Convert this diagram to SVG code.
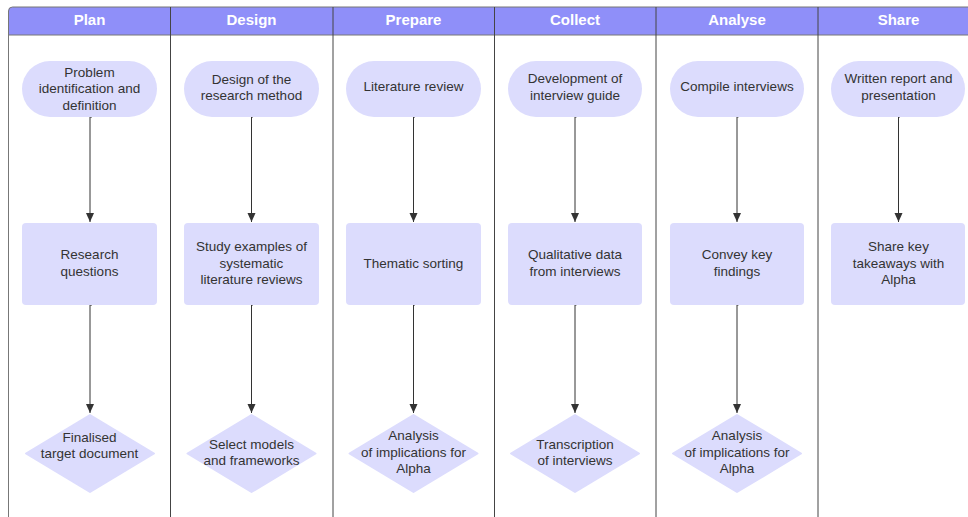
<svg xmlns="http://www.w3.org/2000/svg" width="968" height="517" viewBox="0 0 968 517">
<defs>
<marker id="arr" markerWidth="12" markerHeight="12" refX="9" refY="6" orient="auto" markerUnits="userSpaceOnUse">
<path d="M0,2 L9,6 L0,10 Z" fill="#333"/>
</marker>
<style>
.hdr{fill:#8f8ff9}
.lane{fill:none;stroke:#444;stroke-width:1}
.frame{fill:none;stroke:#777;stroke-width:1}
.ht{font-family:"Liberation Sans",Arial,sans-serif;font-size:15px;font-weight:bold;fill:#fff;text-anchor:middle}
.node{fill:#dcdcfd}
.dec{fill:#dcdcfd;stroke:#dcdcfd;stroke-width:2;stroke-linejoin:round}
.t{font-family:"Liberation Sans",Arial,sans-serif;font-size:13.5px;fill:#333;text-anchor:middle}
.c{fill:none;stroke:#333;stroke-width:1;marker-end:url(#arr)}
</style>
</defs>
<rect width="968" height="517" fill="#fff"/>
<g id="lanes">
<path class="hdr" d="M8.5,35 V11 Q8.5,7 12.5,7 H980 V35 Z"/>
<path class="frame" d="M8.5,530 V11 Q8.5,7 12.5,7 H980"/>
<line class="frame" x1="8.5" y1="35" x2="980" y2="35"/>
<line class="lane" x1="170.5" y1="7" x2="170.5" y2="530"/>
<line class="lane" x1="333" y1="7" x2="333" y2="530"/>
<line class="lane" x1="494.5" y1="7" x2="494.5" y2="530"/>
<line class="lane" x1="656" y1="7" x2="656" y2="530"/>
<line class="lane" x1="818" y1="7" x2="818" y2="530"/>
<text class="ht" x="89.5" y="24.5">Plan</text>
<text class="ht" x="251.5" y="24.5">Design</text>
<text class="ht" x="413.5" y="24.5">Prepare</text>
<text class="ht" x="575" y="24.5">Collect</text>
<text class="ht" x="737" y="24.5">Analyse</text>
<text class="ht" x="898.5" y="24.5">Share</text>
</g>
<g id="connectors">
<path class="c" d="M92,117 H90 V222"/>
<path class="c" d="M92,305 H90 V413"/>
<path class="c" d="M253,117 H251.5 V222"/>
<path class="c" d="M253,305 H251.5 V413"/>
<path class="c" d="M415,117 H413.5 V222"/>
<path class="c" d="M415,305 H413.5 V413"/>
<path class="c" d="M576.5,117 H575 V222"/>
<path class="c" d="M576.5,305 H575 V413"/>
<path class="c" d="M738.5,117 H737 V222"/>
<path class="c" d="M738.5,305 H737 V413"/>
<path class="c" d="M900,117 H898.5 V222"/>
</g>
<g id="plan-start"><rect class="node" x="22" y="61" width="135" height="56" rx="28"/>
<text class="t"><tspan x="89.5" y="76.5">Problem</tspan><tspan x="89.5" y="93">identification and</tspan><tspan x="89.5" y="109.5">definition</tspan></text></g>
<g id="plan-rect"><rect class="node" x="22" y="223" width="135" height="82" rx="4"/>
<text class="t"><tspan x="89.5" y="259">Research</tspan><tspan x="89.5" y="275.5">questions</tspan></text></g>
<g id="plan-dec"><path class="dec" d="M90,415 L154,453.5 L90,492 L26,453.5 Z"/>
<text class="t"><tspan x="89.5" y="441.5">Finalised</tspan><tspan x="89.5" y="458">target document</tspan></text></g>

<g id="design-start"><rect class="node" x="184" y="61" width="135" height="56" rx="28"/>
<text class="t"><tspan x="251.5" y="83.5">Design of the</tspan><tspan x="251.5" y="100">research method</tspan></text></g>
<g id="design-rect"><rect class="node" x="184" y="223" width="135" height="82" rx="4"/>
<text class="t"><tspan x="251.5" y="251">Study examples of</tspan><tspan x="251.5" y="267.5">systematic</tspan><tspan x="251.5" y="284">literature reviews</tspan></text></g>
<g id="design-dec"><path class="dec" d="M251.5,415 L315.5,453.5 L251.5,492 L187.5,453.5 Z"/>
<text class="t"><tspan x="251.5" y="448.5">Select models</tspan><tspan x="251.5" y="465">and frameworks</tspan></text></g>

<g id="prepare-start"><rect class="node" x="346" y="61" width="135" height="56" rx="28"/>
<text class="t"><tspan x="413.5" y="90.5">Literature review</tspan></text></g>
<g id="prepare-rect"><rect class="node" x="346" y="223" width="135" height="82" rx="4"/>
<text class="t"><tspan x="413.5" y="267.5">Thematic sorting</tspan></text></g>
<g id="prepare-dec"><path class="dec" d="M413.5,415 L477.5,453.5 L413.5,492 L349.5,453.5 Z"/>
<text class="t"><tspan x="413.5" y="440">Analysis</tspan><tspan x="413.5" y="456.5">of implications for</tspan><tspan x="413.5" y="473">Alpha</tspan></text></g>

<g id="collect-start"><rect class="node" x="508" y="61" width="134" height="56" rx="28"/>
<text class="t"><tspan x="575" y="83">Development of</tspan><tspan x="575" y="99.5">interview guide</tspan></text></g>
<g id="collect-rect"><rect class="node" x="508" y="223" width="134" height="82" rx="4"/>
<text class="t"><tspan x="575" y="259">Qualitative data</tspan><tspan x="575" y="275.5">from interviews</tspan></text></g>
<g id="collect-dec"><path class="dec" d="M575,415 L639,453.5 L575,492 L511,453.5 Z"/>
<text class="t"><tspan x="575" y="448.5">Transcription</tspan><tspan x="575" y="465">of interviews</tspan></text></g>

<g id="analyse-start"><rect class="node" x="670" y="61" width="134" height="56" rx="28"/>
<text class="t"><tspan x="737" y="90.5">Compile interviews</tspan></text></g>
<g id="analyse-rect"><rect class="node" x="670" y="223" width="134" height="82" rx="4"/>
<text class="t"><tspan x="737" y="259">Convey key</tspan><tspan x="737" y="275.5">findings</tspan></text></g>
<g id="analyse-dec"><path class="dec" d="M737,415 L801,453.5 L737,492 L673,453.5 Z"/>
<text class="t"><tspan x="737" y="440">Analysis</tspan><tspan x="737" y="456.5">of implications for</tspan><tspan x="737" y="473">Alpha</tspan></text></g>

<g id="share-start"><rect class="node" x="831" y="61" width="134" height="56" rx="28"/>
<text class="t"><tspan x="898.5" y="83">Written report and</tspan><tspan x="898.5" y="99.5">presentation</tspan></text></g>
<g id="share-rect"><rect class="node" x="831" y="223" width="134" height="82" rx="4"/>
<text class="t"><tspan x="898.5" y="251">Share key</tspan><tspan x="898.5" y="267.5">takeaways with</tspan><tspan x="898.5" y="284">Alpha</tspan></text></g>
</svg>
